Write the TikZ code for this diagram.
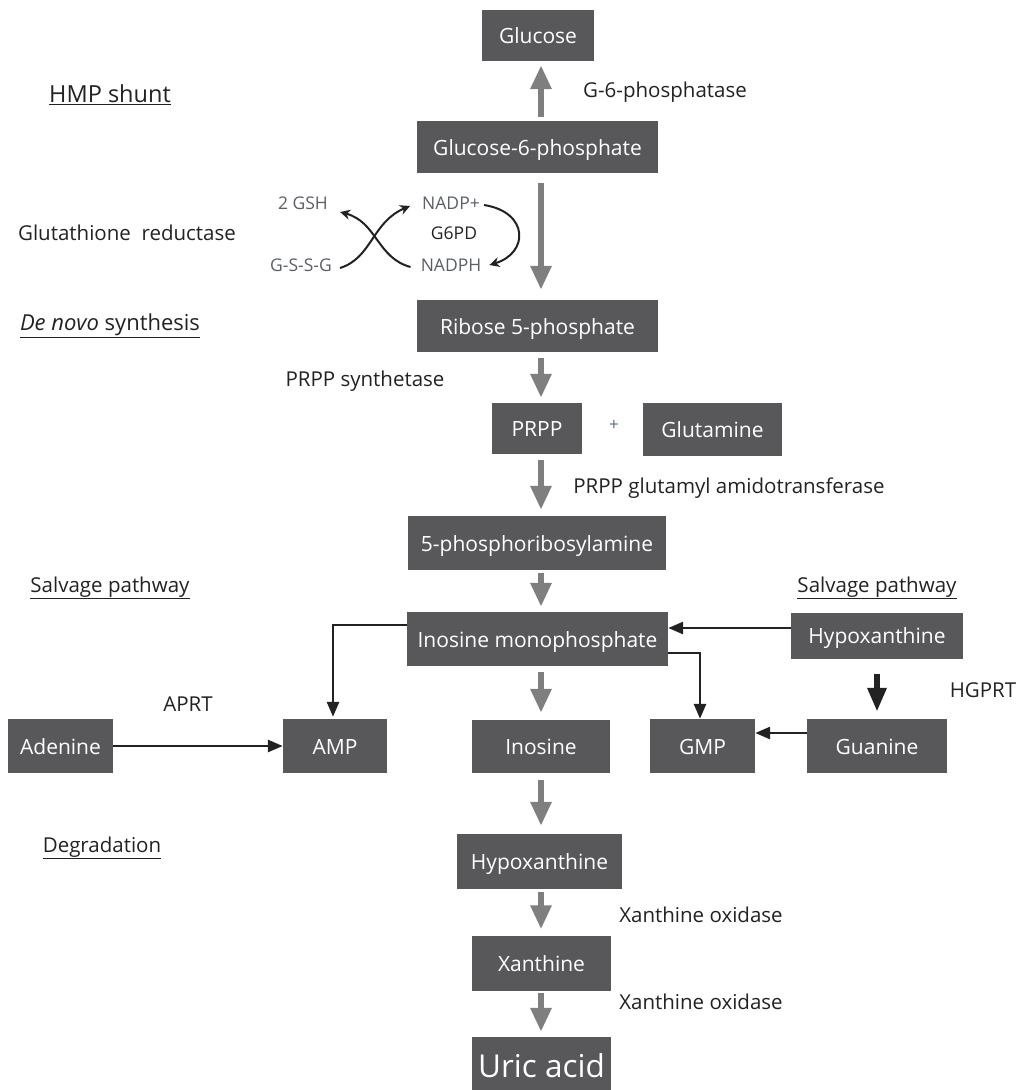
\documentclass[tikz,border=0pt]{standalone}
\usepackage{fontspec}
\setmainfont{Open Sans}
\usetikzlibrary{arrows.meta}
\definecolor{boxgray}{HTML}{58585A}
\definecolor{arrgray}{HTML}{7F7F7F}
\definecolor{ink}{HTML}{222222}
\definecolor{cyc}{HTML}{5A5E66}
\definecolor{plusc}{HTML}{5A6A8A}
\begin{document}
\begin{tikzpicture}[x=1pt,y=-1pt,
  box/.style={fill=boxgray, text=white, inner sep=0pt, text height=18pt, text depth=2pt, font=\fontsize{21}{25}\selectfont},
  lbl/.style={text=ink, inner sep=0pt, font=\fontsize{20.5}{24}\selectfont},
  cyctext/.style={text=cyc, inner sep=0pt, font=\fontsize{17.5}{20}\selectfont},
  garrow/.style={draw=arrgray, line width=6.5pt, -{Triangle[width=20pt,length=24pt]}},
  barrow/.style={draw=ink, line width=2.8pt, -{Triangle[width=12pt,length=15pt]}},
  bthick/.style={draw=ink, line width=6pt, -{Triangle[width=18pt,length=24pt]}},
  carrow/.style={draw=ink, line width=2pt, -{Stealth[width=10pt,length=10pt]}}
]
\useasboundingbox (0,0) rectangle (1019,1090);
\coordinate (axis) at (541,0);
% boxes
\node[box, minimum width=112pt, minimum height=51pt] (glc) at (538,35.5) {Glucose};
\node[box, minimum width=241pt, minimum height=52pt] (g6p) at (537.5,147) {Glucose-6-phosphate};
\node[box, minimum width=241pt, minimum height=52pt] (r5p) at (537.5,326) {Ribose 5-phosphate};
\node[box, minimum width=90pt, minimum height=51pt] (prpp) at (537,428.5) {PRPP};
\node[box, minimum width=139pt, minimum height=53pt] (gln) at (712.5,429.5) {Glutamine};
\node[box, minimum width=258pt, minimum height=54pt] (pra) at (537,543) {5-phosphoribosylamine};
\node[box, minimum width=261pt, minimum height=54pt] (imp) at (537.5,639) {Inosine monophosphate};
\node[box, minimum width=172pt, minimum height=46pt] (hypR) at (877,635.5) {Hypoxanthine};
\node[box, minimum width=105pt, minimum height=54pt] (ade) at (60.5,746) {Adenine};
\node[box, minimum width=104pt, minimum height=54pt] (amp) at (335,746) {AMP};
\node[box, minimum width=138pt, minimum height=53pt] (ino) at (541,746.5) {Inosine};
\node[box, minimum width=105pt, minimum height=54pt] (gmp) at (702.5,746) {GMP};
\node[box, minimum width=140pt, minimum height=54pt] (gua) at (877,746) {Guanine};
\node[box, minimum width=165pt, minimum height=55pt] (hypB) at (539.5,861.5) {Hypoxanthine};
\node[box, minimum width=139pt, minimum height=55pt] (xan) at (541.5,963) {Xanthine};
\node[box, minimum width=139pt, minimum height=54pt, text height=28pt, text depth=2pt, font=\fontsize{31.5}{36}\selectfont] (uric) at (541.5,1064) {Uric acid};
% labels
\node[lbl] (l1) at (665,92) {G-6-phosphatase};
\node[lbl, font=\fontsize{23.5}{27}\selectfont] (l2) at (110,95) {\underline{HMP shunt}};
\node[lbl] (l3) at (127,233) {Glutathione\ \ reductase};
\node[lbl, font=\fontsize{22}{26}\selectfont] (l4) at (110,326) {\underline{\textit{De novo} synthesis}};
\node[lbl] (l5) at (365,381) {PRPP synthetase};
\node[text=plusc, inner sep=0pt, font=\fontsize{17}{20}\selectfont] (plus) at (614,425) {+};
\node[lbl] (l6) at (729,488) {PRPP glutamyl amidotransferase};
\node[lbl] (l7) at (110,588) {\underline{Salvage pathway}};
\node[lbl] (l8) at (877,588) {\underline{Salvage pathway}};
\node[lbl] (l9) at (188,704) {APRT};
\node[lbl] (l10) at (983,690) {HGPRT};
\node[lbl] (l11) at (102,848) {\underline{Degradation}};
\node[lbl] (l12) at (701,915) {Xanthine oxidase};
\node[lbl] (l13) at (701,1002) {Xanthine oxidase};
% cycle texts
\node[cyctext] (gsh) at (303,203) {2 GSH};
\node[cyctext] (nadp) at (451,203) {NADP+};
\node[cyctext, text=ink] (g6pd) at (454,233) {G6PD};
\node[cyctext] (gssg) at (301,265) {G-S-S-G};
\node[cyctext] (nadph) at (451,265) {NADPH};
% grey arrows
\draw[garrow, shorten <=4pt, shorten >=4pt] (g6p.north -| axis) -- (glc.south -| axis);
\draw[garrow, shorten <=10pt, shorten >=10pt] (g6p.south -| axis) -- (r5p.north -| axis);
\draw[garrow, shorten <=6pt, shorten >=5pt] (r5p.south -| axis) -- (prpp.north -| axis);
\draw[garrow, shorten <=6pt, shorten >=6pt] (prpp.south -| axis) -- (pra.north -| axis);
\draw[garrow, shorten <=3pt, shorten >=5pt] (pra.south -| axis) -- (imp.north -| axis);
\draw[garrow, shorten <=6pt, shorten >=7pt] (imp.south -| axis) -- (ino.north -| axis);
\draw[garrow, shorten <=7pt, shorten >=8pt] (ino.south -| axis) -- (hypB.north -| axis);
\draw[garrow, shorten <=3pt, shorten >=6pt] (hypB.south -| axis) -- (xan.north -| axis);
\draw[garrow, shorten <=2pt, shorten >=5pt] (xan.south -| axis) -- (uric.north -| axis);
% black connectors
\draw[barrow, shorten >=2pt] ([yshift=14pt]imp.west) -| ([xshift=-2pt]amp.north);
\draw[barrow] (ade.east) -- (amp.west);
\draw[barrow] ([yshift=7.5pt]hypR.west) -- ([yshift=7.5pt]hypR.west -| imp.east);
\draw[barrow] ([yshift=-14pt]imp.east) -| ([xshift=-2.5pt]gmp.north);
\draw[barrow] ([yshift=13pt]gua.west) -- ([yshift=13pt]gua.west -| gmp.east);
\draw[bthick, shorten <=15pt, shorten >=7pt] (hypR.south) -- (gua.north);
% cycle curves
\draw[carrow] ([xshift=4pt,yshift=-2pt]nadp.east) .. controls (529,212) and (529,253) .. ([xshift=8pt]nadph.east);
\draw[carrow] ([xshift=8pt,yshift=-3pt]gssg.east) .. controls (372,258) and (372,222) .. ([xshift=-12pt,yshift=-3pt]nadp.west);
\draw[carrow] ([xshift=-10pt,yshift=-2pt]nadph.west) .. controls (377,258) and (377,222) .. ([xshift=12pt,yshift=-9pt]gsh.east);
\end{tikzpicture}
\end{document}
